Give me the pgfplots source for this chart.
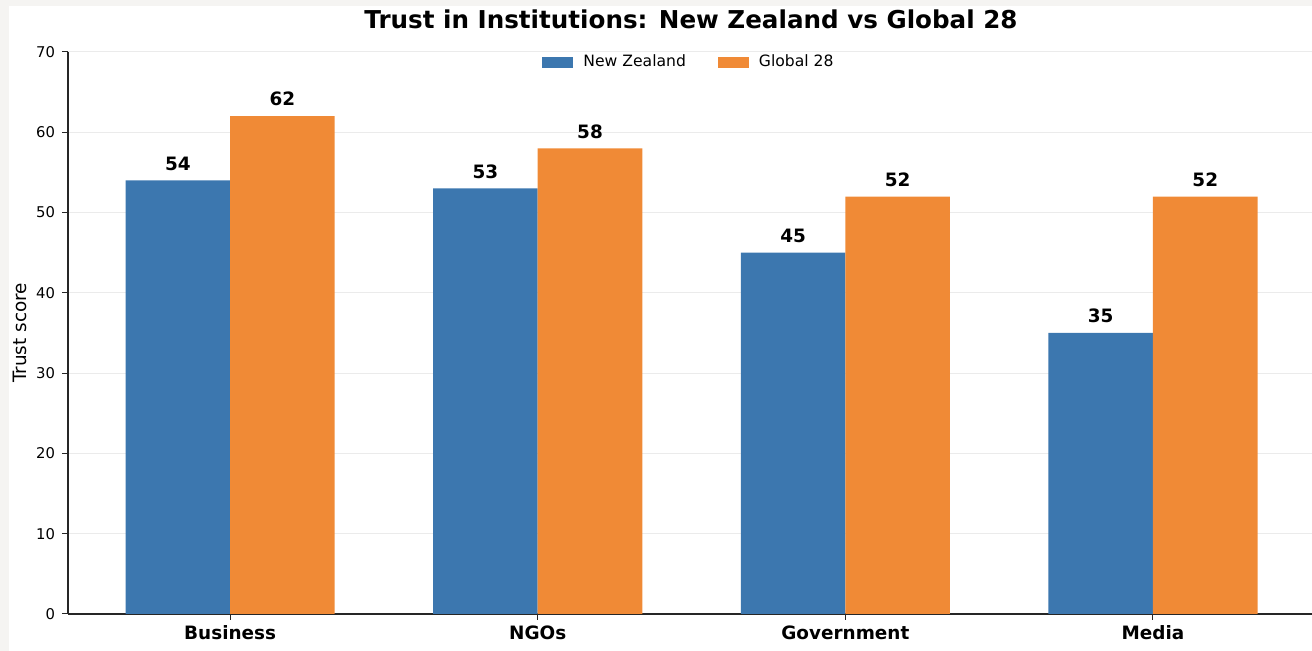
\documentclass[border=0pt]{standalone}
\usepackage{fontspec}
\setmainfont{DejaVu Sans}
\usepackage{pgfplots}
\pgfplotsset{compat=1.18}
\definecolor{nzblue}{HTML}{3C77AF}
\definecolor{globorange}{HTML}{F08A36}
\definecolor{gridgray}{HTML}{EBEBEB}
\definecolor{edgegray}{HTML}{F5F4F2}

\begin{document}
\begin{tikzpicture}[x=0.5pt,y=0.5pt]
% picture frame in pixel units (1312 x 651)
\useasboundingbox (0,0) rectangle (1312,651);
\clip (0,0) rectangle (1312,651);
\fill[edgegray] (0,0) rectangle (9,651);
\fill[edgegray] (0,645) rectangle (1312,651);
\coordinate (O) at (68,37);
\begin{axis}[
    at={(O)}, anchor=south west,
    scale only axis,
    width=622pt, height=281pt,
    ymin=0, ymax=70,
    xmin=-0.527, xmax=3.517,
    ytick={0,10,...,70},
    xtick={0,1,2,3},
    xticklabels={Business,NGOs,Government,Media},
    axis x line*=bottom, axis y line*=left,
    axis line style={black!85, line width=0.6pt},
    tick align=outside,
    major tick length=3pt,
    tick style={black!85, line width=0.5pt},
    ymajorgrids, grid style={gridgray, line width=0.5pt},
    ticklabel style={font=\fontsize{7.4pt}{9pt}\selectfont},
    /pgf/number format/assume math mode=true,
    x tick label style={font=\fontsize{9.2pt}{11pt}\selectfont\bfseries,
        text height=1.6ex, text depth=0.4ex, yshift=2.5pt},
    ylabel={Trust score},
    ylabel style={font=\fontsize{9.2pt}{11pt}\selectfont, yshift=-2pt},
    ybar, bar width=0.34,
    nodes near coords,
    every node near coord/.append style={font=\fontsize{9.2pt}{11pt}\selectfont\bfseries, yshift=1.5pt},
    legend style={at={(0.5,1.01)}, anchor=north, draw=none, fill=none,
        legend columns=2, font=\fontsize{7.8pt}{9pt}\selectfont,
        /tikz/every even column/.append style={column sep=14pt},
        /tikz/every odd column/.append style={column sep=3pt}},
    legend image code/.code={\fill[#1] (0pt,-2.8pt) rectangle (15.5pt,2.8pt);},
]
\addplot[fill=nzblue, draw=none, bar shift=-0.17] coordinates {(0,54) (1,53) (2,45) (3,35)};
\addplot[fill=globorange, draw=none, bar shift=0.17] coordinates {(0,62) (1,58) (2,52) (3,52)};
\legend{New Zealand, Global 28}
\end{axis}
\node[font=\fontsize{12.3pt}{15pt}\selectfont\bfseries] at (691,632) {Trust in Institutions: New Zealand vs Global 28};
\end{tikzpicture}
\end{document}
